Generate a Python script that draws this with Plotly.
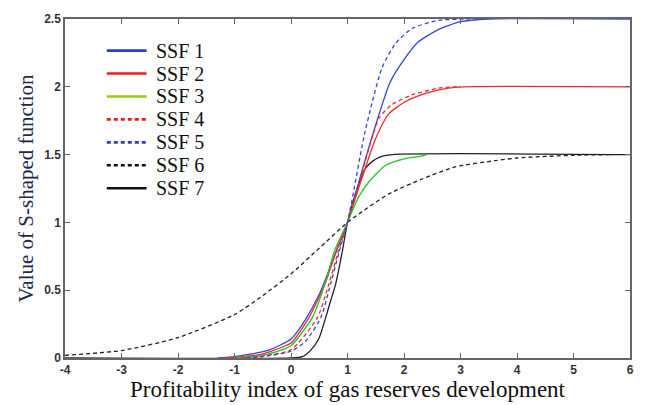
import plotly.graph_objects as go

# ---- data ----
ssf1_x = [-1.3, -1.0, -0.7, -0.38, 0.0, 0.25, 0.5, 0.75, 1.0, 1.25, 1.5, 1.75, 2.0, 2.25, 2.6, 3.0, 3.5, 6.0]
ssf1_y = [0.0, 0.01, 0.03, 0.06, 0.14, 0.28, 0.47, 0.73, 1.0, 1.37, 1.72, 2.03, 2.2, 2.33, 2.42, 2.48, 2.5, 2.5]

ssf2_x = [-1.2, -1.0, -0.5, -0.3, 0.0, 0.32, 0.6, 0.8, 1.0, 1.25, 1.5, 1.73, 2.02, 2.37, 2.78, 3.05, 6.0]
ssf2_y = [0.0, 0.005, 0.03, 0.058, 0.11, 0.30, 0.545, 0.79, 1.0, 1.32, 1.62, 1.80, 1.89, 1.95, 1.99, 2.0, 2.0]

ssf3_x = [-1.0, -0.5, -0.18, 0.0, 0.38, 0.6, 0.77, 1.0, 1.1, 1.2, 1.38, 1.67, 2.02, 2.32, 2.4]
ssf3_y = [0.0, 0.02, 0.058, 0.09, 0.30, 0.545, 0.79, 1.0, 1.1, 1.19, 1.30, 1.42, 1.47, 1.49, 1.5]

ssf4_x = [-0.9, -0.5, 0.0, 0.47, 0.67, 0.84, 1.0, 1.25, 1.56, 1.79, 2.14, 2.61, 2.9, 3.0]
ssf4_y = [0.0, 0.015, 0.06, 0.30, 0.545, 0.79, 1.0, 1.36, 1.77, 1.87, 1.94, 1.99, 2.0, 2.0]

ssf5_x = [-0.8, -0.5, 0.0, 0.25, 0.53, 0.7, 0.85, 1.0, 1.29, 1.44, 1.61, 1.85, 2.14, 2.61, 3.1, 3.3]
ssf5_y = [0.0, 0.01, 0.05, 0.12, 0.30, 0.545, 0.78, 1.0, 1.63, 1.89, 2.14, 2.32, 2.43, 2.49, 2.5, 2.5]

ssf6_x = [-4.0, -3.0, -2.0, -1.0, -0.5, 0.0, 0.5, 1.0, 1.26, 1.73, 2.32, 2.91, 3.61, 4.0, 5.0, 5.7]
ssf6_y = [0.02, 0.055, 0.15, 0.32, 0.46, 0.62, 0.81, 1.0, 1.08, 1.21, 1.32, 1.41, 1.455, 1.475, 1.495, 1.5]

ssf7_x = [-4.0, 0.0, 0.2, 0.35, 0.5, 0.615, 0.7, 0.79, 0.91, 1.0, 1.17, 1.32, 1.44, 1.56, 1.79, 6.0]
ssf7_y = [0.0, 0.0, 0.01, 0.058, 0.15, 0.30, 0.42, 0.545, 0.79, 1.0, 1.25, 1.40, 1.45, 1.48, 1.5, 1.5]

names = ["SSF 1", "SSF 2", "SSF 3", "SSF 4", "SSF 5", "SSF 6", "SSF 7"]
x_ticks = [-4, -3, -2, -1, 0, 1, 2, 3, 4, 5, 6]
y_ticks = [0, 0.5, 1, 1.5, 2, 2.5]
y_ticktext = ["0", "0.5", "1", "1.5", "2", "2.5"]

series = [
    (ssf1_x, ssf1_y, "#3347d6", "solid", "#2a3fcc"),
    (ssf2_x, ssf2_y, "#f02a2a", "solid", "#ee1c1c"),
    (ssf3_x, ssf3_y, "#22c422", "solid", "#99cc11"),
    (ssf4_x, ssf4_y, "#f02a2a", "4px,3px", "#ee1c1c"),
    (ssf5_x, ssf5_y, "#3347d6", "4px,3px", "#2a3fcc"),
    (ssf6_x, ssf6_y, "#222222", "4px,3px", "#111111"),
    (ssf7_x, ssf7_y, "#222222", "solid", "#111111"),
]

fig = go.Figure()
draw_order = [6, 5, 0, 1, 2, 3, 4]
for i in draw_order:
    xs, ys, col, dash, _ = series[i]
    fig.add_trace(go.Scatter(x=xs, y=ys, mode="lines", name=names[i], showlegend=False,
                             line=dict(color=col, width=1.3, dash=dash, shape="spline", smoothing=0.6)))

# manual legend (paper coordinates)
L, B, W, H = 65, 47, 568, 343
def px_x(p):
    return (p - L) / W
def px_y(p):
    return (405 - B - p) / H

shapes = []
annotations = []
for i, (xs, ys, col, dash, lcol) in enumerate(series):
    yc = 47 + 23.2 * i
    shapes.append(dict(type="line", xref="paper", yref="paper",
                       x0=px_x(107), x1=px_x(147), y0=px_y(yc), y1=px_y(yc),
                       line=dict(color=lcol, width=2.6, dash=dash)))
    annotations.append(dict(xref="paper", yref="paper", x=px_x(154), y=px_y(yc),
                            xanchor="left", yanchor="middle", showarrow=False,
                            text=names[i],
                            font=dict(family="Liberation Serif", size=20, color="#111111")))

axis_common = dict(showline=True, linecolor="#666666", linewidth=1.5, mirror="ticks",
                   ticks="inside", ticklen=5, tickcolor="#666666", tickwidth=1.2,
                   showgrid=False, zeroline=False,
                   tickfont=dict(family="Liberation Sans", size=12, color="#333333", weight="bold"))

fig.update_layout(
    width=646, height=405,
    margin=dict(l=L, r=646 - L - W, t=405 - B - H, b=B),
    paper_bgcolor="white", plot_bgcolor="white",
    showlegend=False,
    shapes=shapes, annotations=annotations,
    xaxis=dict(range=[-4, 6], tickvals=x_ticks, ticktext=[str(v) for v in x_ticks],
               title=dict(text="Profitability index of gas reserves development",
                          font=dict(family="Liberation Serif", size=23, color="#111111"), standoff=0),
               **axis_common),
    yaxis=dict(range=[0, 2.5], tickvals=y_ticks, ticktext=y_ticktext,
               title=dict(text="Value of S-shaped function",
                          font=dict(family="Liberation Serif", size=21, color="#1c2a4a"), standoff=5),
               **axis_common),
)

fig.write_html("out.html")
